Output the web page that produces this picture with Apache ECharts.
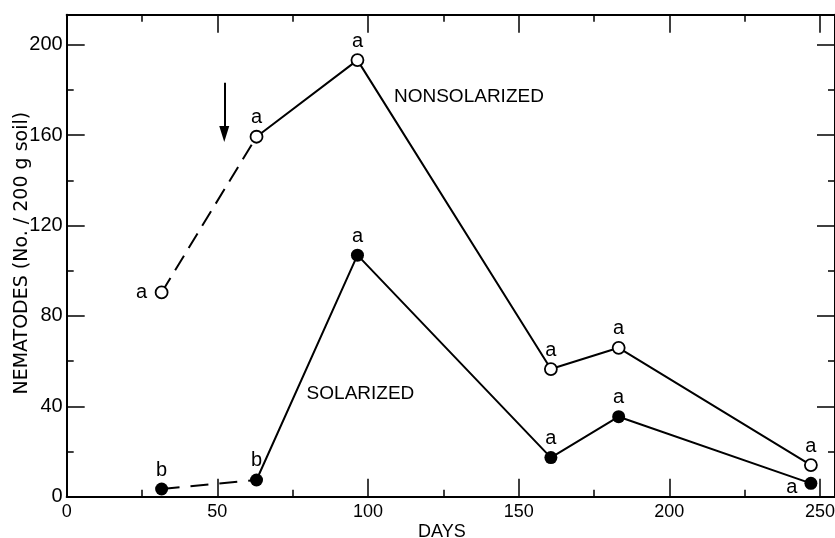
<!DOCTYPE html>
<html>
<head>
<meta charset="utf-8">
<script src="https://cdn.jsdelivr.net/npm/echarts@6/dist/echarts.min.js"></script>
<style>
html,body{margin:0;padding:0;background:#fff;}
#chart{width:835px;height:538px;}
</style>
</head>
<body>
<div id="chart"></div>
<script>
// ---- data ----
const days = [31.5, 63, 96.5, 160.7, 183.2, 247];
const nonsolarized = [90.4, 159.3, 193.2, 56.5, 65.9, 14];
const solarized = [3.4, 7.4, 106.9, 17.3, 35.4, 5.9];
const nonsolLetters = ['a', 'a', 'a', 'a', 'a', 'a'];
const solLetters = ['b', 'b', 'a', 'a', 'a', 'a'];
const seriesNames = ['NONSOLARIZED', 'SOLARIZED'];
const annotationPoints = [[133.5, 176.9], [97.5, 45.4]];
const arrowDay = 52.3;
const arrowFromTo = [183.2, 160.5];
const xTickValues = [0, 50, 100, 150, 200, 250];
const yTickValues = [0, 40, 80, 120, 160, 200];
const xName = 'DAYS';
const yName = 'NEMATODES (No. / 200 g soil)';

// ---- chart ----
const BLACK = '#000';
const FONT = 'Liberation Sans';
const xMin = 0, xMax = 255, yMin = 0, yMax = 213.3;

function pairs(xs, ys, from, to) {
  const out = [];
  for (let i = from; i <= to; i++) out.push([xs[i], ys[i]]);
  return out;
}

function xAx(pos, interval, tickLen, showLine, showLabels) {
  return {
    type: 'value', position: pos, min: xMin, max: xMax, interval: interval,
    axisLine: { show: showLine, onZero: false, lineStyle: { color: BLACK, width: 2 } },
    axisTick: { show: true, inside: true, length: tickLen, lineStyle: { color: BLACK, width: 1.5 } },
    axisLabel: {
      show: showLabels, margin: 6, color: BLACK, fontFamily: FONT, fontSize: 18,
      formatter: v => (xTickValues.indexOf(v) >= 0 ? String(v) : '')
    },
    splitLine: { show: false }
  };
}
function yAx(pos, interval, tickLen, showLine, showLabels) {
  return {
    type: 'value', position: pos, min: yMin, max: yMax, interval: interval,
    axisLine: { show: showLine, onZero: false, lineStyle: { color: BLACK, width: 2 } },
    axisTick: { show: true, inside: true, length: tickLen, lineStyle: { color: BLACK, width: 1.5 } },
    axisLabel: {
      show: showLabels, margin: 4, color: BLACK, fontFamily: FONT, fontSize: 20,
      formatter: v => (yTickValues.indexOf(v) >= 0 ? String(v) : '')
    },
    splitLine: { show: false }
  };
}

const xAxes = [xAx('bottom', 50, 18, true, true), xAx('bottom', 25, 7, false, false),
               xAx('top', 50, 18, true, false), xAx('top', 25, 7, false, false)];
xAxes[0].name = xName;
xAxes[0].nameLocation = 'middle';
xAxes[0].nameGap = 26;
xAxes[0].nameMoveOverlap = false;
xAxes[0].nameTextStyle = { color: BLACK, fontFamily: FONT, fontSize: 18, padding: [0, 18, 0, 0] };

const yAxes = [yAx('left', 40, 18, true, true), yAx('left', 20, 7, false, false),
               yAx('right', 40, 18, true, false), yAx('right', 20, 7, false, false)];
yAxes[0].name = yName;
yAxes[0].nameLocation = 'middle';
yAxes[0].nameGap = 35;
yAxes[0].nameMoveOverlap = false;
yAxes[0].nameTextStyle = { color: BLACK, fontFamily: 'DejaVu Sans', fontSize: 19, padding: [0, 0, 0, 5] };

function letterData(ys, letters, special) {
  return days.map((d, i) => {
    const item = { value: [d, ys[i]], name: letters[i] };
    item.label = { offset: special[i] || [0, -19] };
    return item;
  });
}

const letterLabel = {
  show: true, position: 'inside', formatter: p => p.name, opacity: 1,
  color: BLACK, fontFamily: FONT, fontSize: 20
};

const lineBase = { type: 'line', symbol: 'none', silent: true, animation: false,
                   xAxisIndex: 0, yAxisIndex: 0 };

const series = [
  Object.assign({}, lineBase, { data: pairs(days, nonsolarized, 0, 1),
    lineStyle: { color: BLACK, width: 2, type: [17, 9] } }),
  Object.assign({}, lineBase, { data: pairs(days, nonsolarized, 1, 5),
    lineStyle: { color: BLACK, width: 2 },
    markLine: {
      silent: true, animation: false, symbol: ['none', 'triangle'], symbolSize: [10, 16],
      lineStyle: { color: BLACK, width: 2, type: 'solid' }, label: { show: false },
      data: [[{ coord: [arrowDay, arrowFromTo[0]] }, { coord: [arrowDay, arrowFromTo[1]] }]]
    } }),
  Object.assign({}, lineBase, { data: pairs(days, solarized, 0, 1),
    lineStyle: { color: BLACK, width: 2, type: [18, 11] } }),
  Object.assign({}, lineBase, { data: pairs(days, solarized, 1, 5),
    lineStyle: { color: BLACK, width: 2 } }),
  {
    type: 'scatter', silent: true, animation: false, z: 5,
    symbol: 'circle', symbolSize: 12,
    itemStyle: { color: '#fff', borderColor: BLACK, borderWidth: 1.8, opacity: 1 },
    label: letterLabel,
    data: letterData(nonsolarized, nonsolLetters, { 0: [-20, 0] })
  },
  {
    type: 'scatter', silent: true, animation: false, z: 5,
    symbol: 'circle', symbolSize: 13,
    itemStyle: { color: BLACK, opacity: 1 },
    label: letterLabel,
    data: letterData(solarized, solLetters, { 5: [-19, 4] })
  },
  {
    type: 'scatter', silent: true, animation: false, symbolSize: 0,
    itemStyle: { opacity: 1 },
    label: { show: true, position: 'inside', formatter: p => p.name, opacity: 1,
             color: BLACK, fontFamily: FONT, fontSize: 19 },
    data: annotationPoints.map((p, i) => ({ value: p, name: seriesNames[i] }))
  }
];

const chart = echarts.init(document.getElementById('chart'), null, { renderer: 'canvas' });
chart.setOption({
  backgroundColor: '#fff',
  animation: false,
  grid: { left: 66.7, right: 0, top: 14.7, bottom: 41.3, containLabel: false, outerBoundsMode: 'none' },
  xAxis: xAxes,
  yAxis: yAxes,
  series: series
});
</script>
</body>
</html>
